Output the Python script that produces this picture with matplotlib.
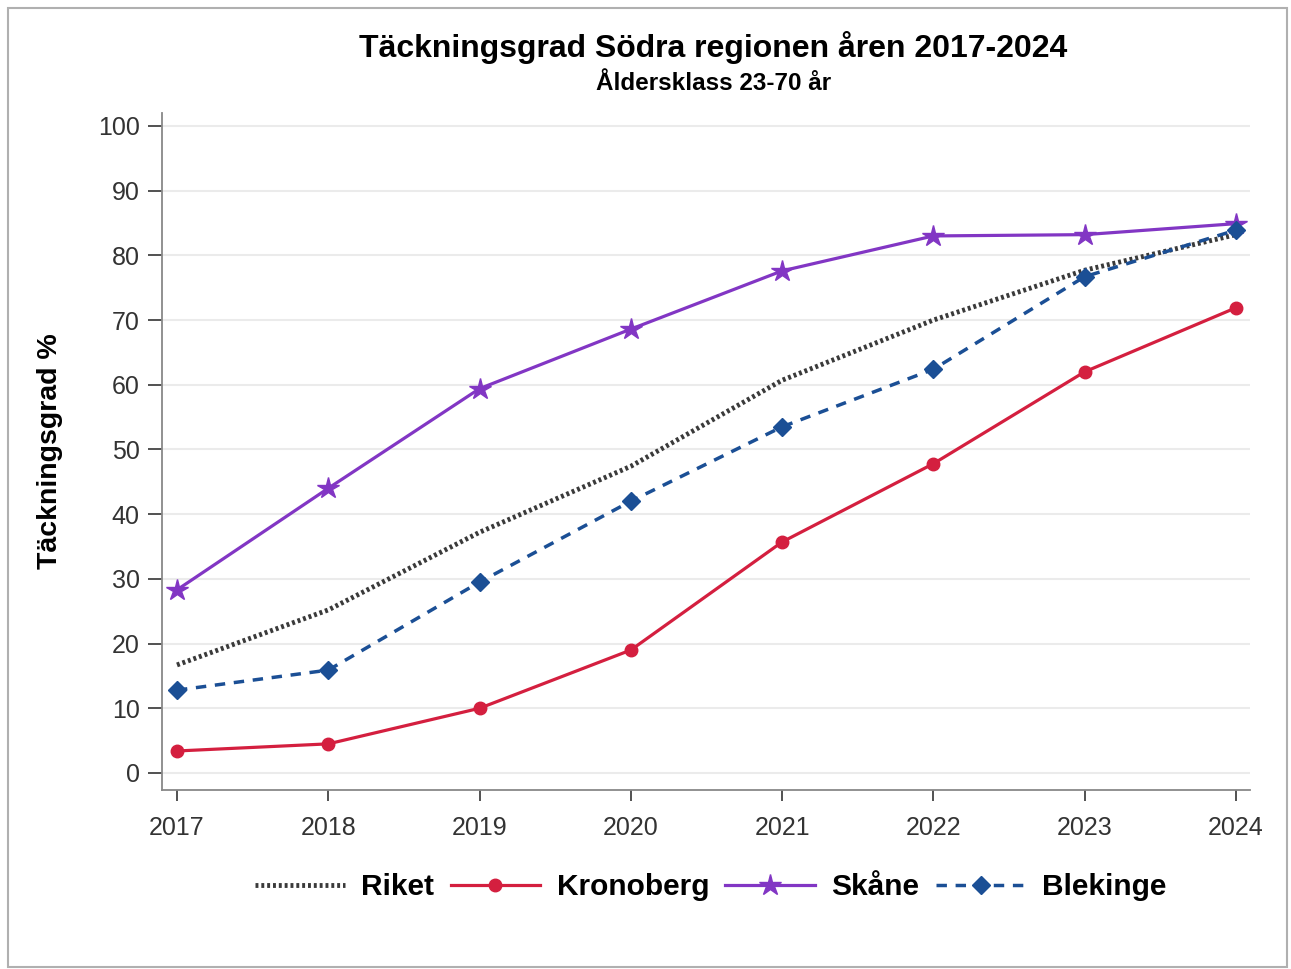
import matplotlib
matplotlib.use("Agg")
import matplotlib.pyplot as plt
from matplotlib.patches import Rectangle

years = [2017, 2018, 2019, 2020, 2021, 2022, 2023, 2024]
riket = [16.7, 25.2, 37.2, 47.4, 60.7, 70.0, 77.7, 83.2]
kronoberg = [3.4, 4.5, 10.0, 19.0, 35.7, 47.8, 62.0, 71.9]
skane = [28.3, 44.0, 59.4, 68.6, 77.6, 83.0, 83.2, 84.9]
blekinge = [12.8, 15.9, 29.5, 42.0, 53.5, 62.4, 76.7, 83.9]
yticks = [0, 10, 20, 30, 40, 50, 60, 70, 80, 90, 100]

plt.rcParams['font.family'] = ['Liberation Sans', 'DejaVu Sans']

fig = plt.figure(figsize=(12.91, 9.69), dpi=100)
fig.patches.append(Rectangle((8/1291, 2/969), 1279/1291, 959/969, transform=fig.transFigure,
                             fill=False, edgecolor='#b0b0b0', linewidth=1.5))
ax = fig.add_axes([162/1291, 1-790/969, (1250-162)/1291, (790-113)/969])

ax.plot(years, riket, linestyle=(0, (0.6, 0.6)), color='#3a3a3a', linewidth=3.5, label='Riket')
ax.plot(years, kronoberg, color='#D41F3F', linewidth=2.3, marker='o', markersize=9, label='Kronoberg')
ax.plot(years, skane, color='#8236C4', linewidth=2.3, marker='*', markersize=16, label='Skåne')
ax.plot(years, blekinge, color='#1B4F95', linewidth=2.5, linestyle=(0, (3, 2.5)), marker='D',
        markersize=9, label='Blekinge')

ax.set_xlim(2017 - 0.099, 2024 + 0.093)
ax.set_ylim(-2.63, 102.0)
ax.set_xticks(years)
ax.set_yticks(yticks)
ax.tick_params(axis='y', labelsize=18, colors='#333333', length=10, width=1.2, pad=6)
ax.tick_params(axis='x', labelsize=18, colors='#333333', length=8, width=1.2, pad=11)
for s in ['top', 'right']:
    ax.spines[s].set_visible(False)
for s in ['left', 'bottom']:
    ax.spines[s].set_color('#888888')
    ax.spines[s].set_linewidth(1.3)
ax.grid(axis='y', color='#ebebeb', linewidth=1.5)
ax.set_axisbelow(True)
ax.set_ylabel('Täckningsgrad %', fontsize=20.5, fontweight='bold')
ax.yaxis.set_label_coords(-0.091, 0.5)

fig.text(0.5525, 1-48/969, 'Täckningsgrad Södra regionen åren 2017-2024', ha='center', va='center',
         fontsize=23, fontweight='bold')
fig.text(0.5525, 1-83/969, 'Åldersklass 23-70 år', ha='center', va='center',
         fontsize=17.5, fontweight='bold')

leg = fig.legend(loc='center', bbox_to_anchor=(0.5505, 1-887/969), ncol=4, frameon=False,
                 prop={'weight': 'bold', 'size': 21.5}, handlelength=3.0,
                 columnspacing=0.55, handletextpad=0.55)

fig.savefig('out.png', dpi=100)
